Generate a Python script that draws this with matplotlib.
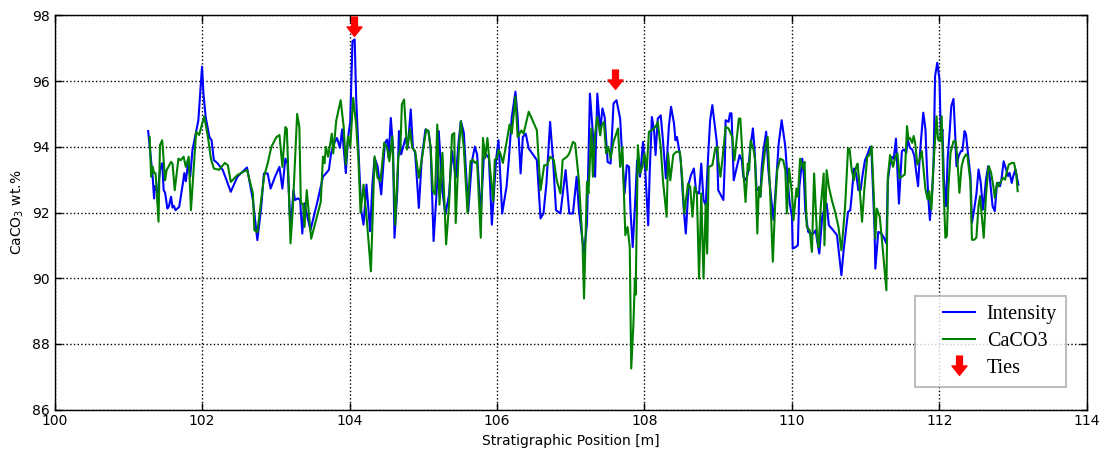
import numpy as np
import matplotlib
matplotlib.use("Agg")
import matplotlib.pyplot as plt
from matplotlib.path import Path
from matplotlib.lines import Line2D
from matplotlib.legend_handler import HandlerLine2D

# ---- data ----
intensity_x = [101.27,101.33,101.35,101.36,101.38,101.40,101.43,101.46,101.48,101.50,101.53,101.55,101.58,101.60,101.62,101.64,101.69,101.74,101.76,101.78,101.81,101.84,101.87,101.92,101.95,102.00,102.02,102.05,102.10,102.13,102.16,102.21,102.28,102.33,102.39,102.48,102.55,102.61,102.69,102.75,102.80,102.84,102.89,102.93,102.99,103.05,103.09,103.13,103.16,103.20,103.24,103.26,103.30,103.33,103.36,103.39,103.43,103.47,103.57,103.64,103.68,103.72,103.75,103.79,
               103.83,103.87,103.90,103.95,103.98,104.01,104.04,104.07,104.09,104.13,104.16,104.19,104.23,104.28,104.31,104.34,104.38,104.43,104.48,104.51,104.53,104.56,104.59,104.61,104.65,104.67,104.70,104.76,104.79,104.83,104.86,104.89,104.94,104.98,105.03,105.07,105.10,105.14,105.19,105.21,105.26,105.30,105.35,105.39,105.44,105.48,105.51,105.55,105.61,105.66,105.70,105.73,105.78,105.82,105.85,105.89,105.93,105.96,105.99,
               106.02,106.07,106.13,106.16,106.20,106.25,106.28,106.32,106.35,106.39,106.43,106.54,106.59,106.63,106.67,106.72,106.76,106.80,106.86,106.93,106.98,107.03,107.08,107.11,107.18,107.22,107.26,107.30,107.33,107.36,107.40,107.43,107.46,107.50,107.54,107.58,
               107.62,107.67,107.70,107.73,107.76,107.79,107.81,107.84,107.87,107.90,107.94,107.98,108.01,108.05,108.07,108.10,108.13,108.15,108.18,108.22,108.25,108.29,108.33,108.36,108.40,108.42,108.44,108.49,108.53,108.56,108.60,108.63,108.67,108.70,108.74,108.77,108.80,108.83,108.86,108.89,108.92,
               108.98,109.00,109.07,109.09,109.10,109.14,109.16,109.18,109.21,109.29,109.32,109.34,109.38,109.41,109.43,109.47,109.49,109.52,109.56,109.57,109.59,109.61,109.65,109.68,109.72,109.75,109.79,109.82,109.86,109.91,109.94,109.97,110.00,110.01,110.05,110.08,110.10,110.14,110.16,110.18,110.22,110.25,110.29,110.32,110.34,110.37,110.41,110.44,110.47,110.50,110.54,110.61,110.67,110.70,110.76,110.79,110.81,110.84,110.87,110.90,110.93,110.96,110.99,111.02,111.06,111.08,111.12,111.13,111.16,111.17,111.21,111.24,111.28,111.30,111.33,111.36,111.38,111.41,111.45,
               111.49,111.52,111.55,111.57,111.60,111.63,111.66,111.68,111.71,111.73,111.75,111.78,111.81,111.83,111.85,111.87,111.90,111.92,111.94,111.97,112.00,112.02,112.04,112.06,112.09,112.11,112.14,112.16,112.19,112.21,112.23,112.26,112.29,112.31,112.34,112.36,112.38,112.42,112.44,112.47,112.50,112.53,112.56,112.59,112.61,112.63,112.66,112.68,112.72,112.75,112.78,112.80,112.82,112.84,112.87,112.91,112.93,112.95,112.98,113.00,113.03,113.05,113.07]
intensity_y = [94.48,93.10,92.43,92.80,92.70,92.60,93.30,93.50,92.68,92.60,92.12,92.18,92.48,92.15,92.20,92.07,92.17,92.88,93.20,92.95,93.50,93.09,93.90,94.46,94.80,96.44,95.60,94.90,94.30,94.20,93.60,93.50,93.30,93.00,92.63,93.09,93.24,93.37,92.38,91.16,92.10,93.19,93.19,92.73,93.09,93.39,92.73,93.64,93.49,91.46,92.68,92.38,92.43,92.38,91.36,92.28,91.87,91.46,92.38,93.09,93.19,93.30,93.80,94.10,
               94.27,93.97,94.53,93.20,94.27,94.78,97.22,97.27,95.50,93.46,92.04,91.63,92.85,91.43,92.85,93.66,93.41,92.55,94.12,94.22,93.66,94.88,93.97,91.23,92.75,94.48,93.77,94.27,93.97,95.14,93.97,93.82,92.14,93.66,94.53,94.48,93.97,91.13,92.95,94.48,92.65,91.94,92.55,93.87,93.06,94.17,94.78,94.43,92.04,93.56,94.01,93.77,91.94,93.66,93.77,93.66,91.63,92.65,93.66,
               94.20,91.97,92.80,93.60,94.90,95.68,94.90,93.19,94.30,94.40,93.95,93.60,91.82,91.97,92.88,94.76,93.60,92.07,91.97,93.29,91.97,91.97,93.09,92.10,90.75,91.67,95.62,94.40,93.09,95.62,94.50,95.17,94.90,93.54,93.49,95.32,
               95.42,94.86,93.59,92.58,93.44,93.39,92.07,90.95,92.17,93.59,93.09,94.15,93.30,91.61,93.19,94.91,94.50,93.75,94.86,94.96,94.20,93.04,94.61,95.22,94.71,94.20,94.30,93.64,92.17,91.36,92.88,93.14,93.34,92.63,92.58,93.49,92.38,92.22,93.59,94.81,95.27,
               94.15,92.68,92.38,93.59,94.81,94.76,95.02,95.02,92.98,93.75,93.59,93.09,92.98,93.29,93.90,94.56,94.00,92.68,92.73,92.48,93.39,93.85,94.46,93.29,92.38,91.77,93.09,94.10,94.81,94.00,92.98,92.27,91.87,90.90,90.95,91.00,92.78,93.64,93.14,92.07,91.41,91.36,91.36,91.46,91.16,90.75,91.87,92.12,92.27,91.61,91.51,91.31,90.09,90.85,92.02,92.07,92.53,93.34,93.19,92.68,92.68,93.19,93.59,93.75,94.00,93.75,91.46,90.29,91.16,91.41,91.36,91.26,91.06,92.98,93.49,93.69,93.64,94.25,92.27,
               93.87,93.92,93.82,94.22,93.97,93.92,93.72,93.31,92.80,93.61,94.22,95.04,94.53,93.31,92.40,91.77,92.60,93.51,96.15,96.56,96.05,94.22,94.53,93.00,92.19,93.61,94.53,95.24,95.46,94.53,93.41,93.72,93.87,93.87,94.48,94.38,93.92,93.11,91.69,92.09,92.55,93.31,92.90,92.09,92.50,93.00,93.41,93.11,92.19,92.04,92.90,92.90,92.80,93.00,93.56,93.26,93.11,93.21,92.90,93.11,93.31,93.06,92.85]

caco3_x = [101.29,101.31,101.33,101.35,101.37,101.41,101.43,101.46,101.50,101.52,101.58,101.60,101.63,101.68,101.71,101.75,101.78,101.82,101.85,101.92,101.96,102.03,102.08,102.12,102.16,102.23,102.31,102.35,102.39,102.48,102.61,102.69,102.71,102.75,102.84,102.89,102.94,103.01,103.05,103.09,103.13,103.15,103.17,103.20,103.23,103.29,103.32,103.34,103.37,103.39,103.42,103.48,103.61,103.64,103.66,103.68,103.71,103.76,103.78,103.82,
           103.88,103.92,103.95,103.98,104.01,104.05,104.09,104.12,104.15,104.19,104.24,104.29,104.32,104.34,104.38,104.42,104.47,104.51,104.54,104.58,104.62,104.66,104.69,104.71,104.74,104.78,104.82,104.85,104.89,104.94,104.98,105.04,105.07,105.10,105.13,105.16,105.19,105.22,105.26,105.31,105.35,105.39,105.42,105.44,105.48,105.51,105.55,105.60,105.64,105.67,105.70,105.73,105.78,105.81,105.84,105.87,105.90,105.95,105.97,106.00,
           106.02,106.05,106.08,106.10,106.12,106.17,106.20,106.25,106.28,106.33,106.36,106.43,106.54,106.59,106.64,106.68,106.72,106.77,106.81,106.86,106.89,106.95,106.98,107.03,107.06,107.11,107.16,107.18,107.22,107.24,107.28,107.30,107.33,107.36,107.40,107.42,107.45,107.48,107.51,107.54,107.58,
           107.64,107.67,107.70,107.74,107.77,107.80,107.82,107.85,107.87,107.88,107.91,107.94,107.97,108.00,108.03,108.06,108.10,108.15,108.18,108.22,108.25,108.30,108.32,108.35,108.39,108.43,108.48,108.51,108.54,108.59,108.62,108.65,108.68,108.71,108.74,108.77,108.80,108.83,108.85,108.87,108.92,
           108.96,108.99,109.00,109.03,109.06,109.10,109.14,109.19,109.22,109.28,109.30,109.32,109.34,109.37,109.40,109.42,109.44,109.48,109.50,109.53,109.55,109.57,109.60,109.64,109.67,109.71,109.74,109.77,109.80,109.84,109.88,109.91,109.93,109.96,110.00,110.02,110.06,110.08,110.11,110.15,110.17,110.20,110.24,110.27,110.30,110.34,110.36,110.39,110.43,110.44,110.47,110.50,110.54,110.59,110.63,110.67,110.69,110.72,110.76,110.78,110.81,110.84,110.87,110.89,110.91,110.95,110.98,111.02,111.05,111.08,111.11,111.13,111.15,111.19,111.22,111.28,111.30,111.33,111.37,111.40,111.43,111.46,
           111.50,111.53,111.56,111.58,111.60,111.63,111.65,111.67,111.70,111.73,111.76,111.78,111.81,111.84,111.86,111.89,111.92,111.96,111.98,112.01,112.03,112.05,112.08,112.10,112.12,112.15,112.19,112.22,112.24,112.27,112.30,112.33,112.36,112.38,112.42,112.44,112.47,112.50,112.53,112.55,112.57,112.60,112.63,112.66,112.67,112.70,112.73,112.75,112.78,112.80,112.82,112.86,112.89,112.91,112.94,112.98,113.01,113.04,113.06]
caco3_y = [94.30,93.09,93.40,93.20,93.20,91.72,94.05,94.20,92.98,93.29,93.54,93.49,92.68,93.64,93.59,93.70,93.39,93.70,92.07,94.46,94.36,94.93,94.30,93.64,93.34,93.30,93.51,93.44,92.93,93.14,93.30,92.58,91.46,91.40,93.09,93.49,94.00,94.30,94.36,93.39,94.60,94.55,93.20,91.06,92.07,95.00,94.60,92.27,92.27,91.56,92.68,91.20,92.32,93.70,93.50,94.00,93.70,94.40,93.80,94.80,
           95.42,94.63,93.46,94.32,94.00,95.49,94.68,93.66,91.99,92.85,91.63,90.21,92.35,93.71,93.06,92.95,94.12,93.97,93.56,94.32,91.63,93.66,93.97,95.29,95.44,93.92,94.53,93.97,93.87,93.06,93.61,94.53,94.48,93.97,92.65,92.55,94.68,92.24,93.82,91.03,92.24,94.37,94.42,91.68,93.80,94.78,93.97,91.99,93.56,93.61,93.51,93.56,91.23,94.27,93.66,94.27,93.46,92.35,93.61,93.66,
           93.92,93.77,93.51,93.77,94.01,94.68,94.40,95.52,94.30,94.50,94.40,95.07,94.51,92.68,93.44,93.44,93.70,93.60,92.98,92.58,93.60,93.70,93.80,94.15,94.10,92.98,91.05,89.38,92.93,92.58,94.56,93.09,94.40,94.91,94.35,94.66,94.76,93.80,94.00,93.65,94.15,
           94.56,93.39,94.00,91.31,91.56,90.95,87.25,88.62,89.99,89.50,94.05,93.19,93.39,93.80,93.29,94.46,94.51,94.61,94.76,93.98,92.98,91.87,93.80,92.98,93.75,93.85,93.85,93.09,91.97,92.88,92.78,91.87,92.78,92.58,89.99,92.58,89.99,92.27,90.75,93.39,93.44,
           93.95,94.00,93.60,93.09,93.69,94.61,94.56,94.30,93.59,94.86,94.86,94.05,93.29,92.32,93.49,93.29,94.20,93.90,93.59,91.36,92.78,92.48,93.24,94.00,94.30,92.27,90.50,92.17,93.29,93.64,93.59,93.29,91.97,93.34,92.58,91.77,92.73,92.48,93.64,93.34,93.54,91.56,91.46,90.80,93.19,91.26,90.95,92.17,93.19,91.00,93.29,92.78,92.38,91.97,91.56,90.85,91.36,92.17,93.95,93.95,93.29,92.98,93.39,93.49,92.98,91.72,92.68,93.69,93.75,94.02,92.48,91.21,92.12,91.87,91.16,89.63,93.09,93.75,93.39,93.69,93.80,93.04,
           93.11,93.16,94.63,94.22,94.27,94.12,94.33,94.12,93.46,93.61,93.87,93.41,92.70,92.40,92.65,92.09,93.51,94.93,94.22,94.17,94.93,93.10,91.23,91.28,92.70,93.82,94.17,94.17,93.72,92.60,93.41,93.66,93.77,93.72,92.90,91.17,91.17,91.23,92.22,92.50,92.00,91.23,92.50,93.31,93.41,93.21,92.80,92.45,92.90,92.80,92.90,93.06,93.00,93.21,93.46,93.51,93.51,93.21,92.65]

ties_x = [104.06, 107.60]
ties_y = [97.65, 96.03]

# ---- style ----
plt.rcParams['font.family'] = ['DejaVu Sans']
plt.rcParams['font.size'] = 10

arrow = Path([(-0.28, 1.0), (0.28, 1.0), (0.28, 0.05), (0.72, 0.05), (0.0, -0.85),
              (-0.72, 0.05), (-0.28, 0.05), (-0.28, 1.0)],
             [Path.MOVETO] + [Path.LINETO] * 6 + [Path.CLOSEPOLY])

fig = plt.figure(figsize=(11.06, 4.53), dpi=100)
ax = fig.add_axes([0.0493, 0.096, 0.9335, 0.8698])

ax.plot(intensity_x, intensity_y, color=(0, 0, 1), lw=1.5, label='Intensity', zorder=3)
ax.plot(caco3_x, caco3_y, color=(0, 0.5, 0), lw=1.5, label='CaCO3', zorder=4)
ax.plot(ties_x, ties_y, linestyle='none', marker=arrow, markersize=15,
        color='red', markeredgecolor='red', label='Ties', zorder=5)

ax.set_xlim(100, 114)
ax.set_ylim(86, 98)
ax.set_xticks(np.arange(100, 115, 2))
ax.set_yticks(np.arange(86, 99, 2))
ax.grid(True, color='black', linestyle=':', linewidth=1.0)
ax.set_axisbelow(True)
ax.tick_params(direction='in', top=True, right=True, length=5, width=1, labelsize=10)
for s in ax.spines.values():
    s.set_linewidth(1.0)

ax.set_xlabel('Stratigraphic Position [m]', fontsize=10)
ax.set_ylabel('CaCO$_3$ wt.%', fontsize=10)

leg = ax.legend(loc='lower right', bbox_to_anchor=(0.9797, 0.057), borderaxespad=0,
                prop={'family': 'Liberation Serif', 'size': 14.5},
                frameon=True, fancybox=False, handlelength=2.5,
                borderpad=0.45, labelspacing=0.4, handletextpad=0.6,
                handler_map={Line2D: HandlerLine2D(numpoints=1, xpad=0.95)})
leg.get_frame().set_edgecolor('#b0b0b0')
leg.get_frame().set_linewidth(1.5)

fig.savefig('out.png', dpi=100)
